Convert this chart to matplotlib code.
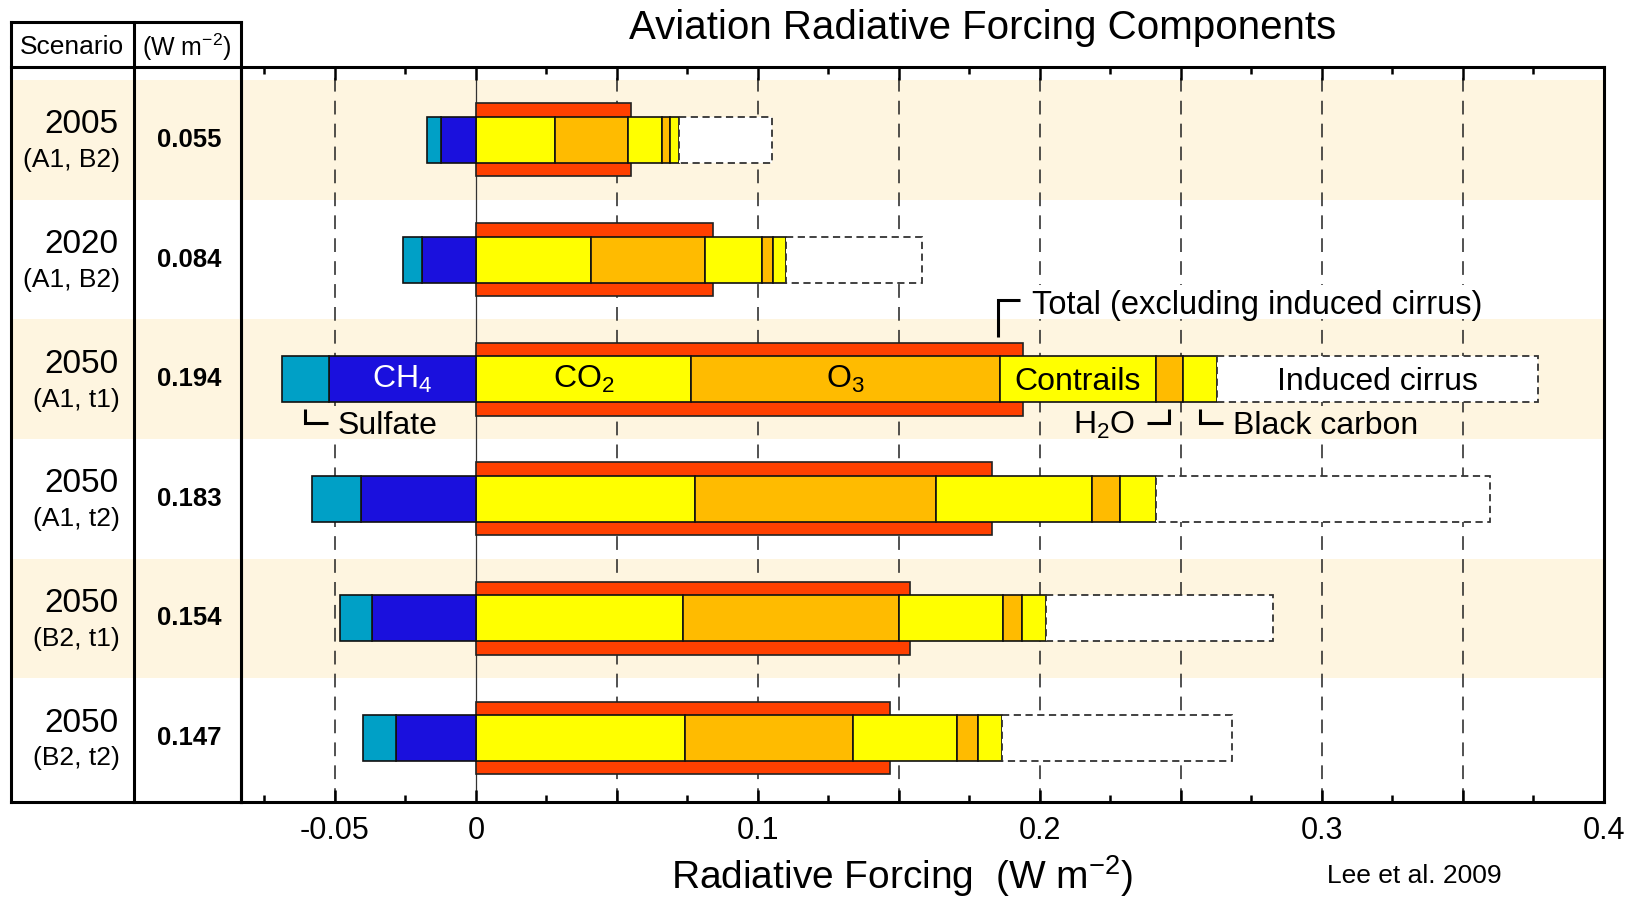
import matplotlib
matplotlib.use('Agg')
import matplotlib.pyplot as plt
from matplotlib.patches import Rectangle
import numpy as np

plt.rcParams['font.family'] = ['Liberation Sans', 'DejaVu Sans']
plt.rcParams['mathtext.fontset'] = 'custom'
plt.rcParams['mathtext.rm'] = 'Liberation Sans'
plt.rcParams['mathtext.it'] = 'Liberation Sans:italic'
plt.rcParams['mathtext.bf'] = 'Liberation Sans:bold'

# scenarios (rows, top to bottom)
years = ['2005', '2020', '2050', '2050', '2050', '2050']
cases = ['(A1, B2)', '(A1, B2)', '(A1, t1)', '(A1, t2)', '(B2, t1)', '(B2, t2)']
total = [0.055, 0.084, 0.194, 0.183, 0.154, 0.147]

# components, W m-2
co2 = [0.0280, 0.0407, 0.0764, 0.0778, 0.0733, 0.0743]
o3 = [0.0260, 0.0406, 0.1094, 0.0852, 0.0767, 0.0594]
contrails = [0.0120, 0.0201, 0.0552, 0.0555, 0.0370, 0.0369]
h2o = [0.0028, 0.0039, 0.0098, 0.0100, 0.0067, 0.0073]
soot = [0.0032, 0.0047, 0.0120, 0.0126, 0.0085, 0.0086]
cirrus = [0.0330, 0.0480, 0.1138, 0.1185, 0.0804, 0.0817]
ch4 = [-0.0125, -0.0190, -0.0520, -0.0407, -0.0367, -0.0282]
sulfate = [-0.0048, -0.0070, -0.0169, -0.0174, -0.0114, -0.0120]

tick_vals = [-0.05, 0, 0.05, 0.1, 0.15, 0.2, 0.25, 0.3, 0.35, 0.4]
tick_labels = ['-0.05', '0', '', '0.1', '', '0.2', '', '0.3', '', '0.4']

red = '#FF4000'
yellow = '#FFFF00'
orange = '#FFBB00'
blue = '#1A10DD'
teal = '#00A0C6'
cream = '#FEF5E0'

W, H = 1635, 898
fig = plt.figure(figsize=(W / 100, H / 100), dpi=100)
ax = fig.add_axes([241 / W, 96 / H, 1363 / W, 735 / H])
tab = fig.add_axes([11 / W, 96 / H, 230 / W, 780 / H])

y = np.arange(len(years))
ytop, ybot, yhead = -0.61, 5.535, -0.986
xmin, xmax = -0.0833, 0.4

# shaded bands
for i in range(0, len(years), 2):
    ax.axhspan(i - 0.5, i + 0.5, color=cream, lw=0, zorder=0)
    tab.axhspan(i - 0.5, i + 0.5, color=cream, lw=0, zorder=0)

# dashed grid + zero line
for v in tick_vals:
    if v == 0 or v == 0.4:
        continue
    ax.axvline(v, color='#222222', lw=1.1, dashes=(9, 6), zorder=1)
ax.axvline(0, color='#333333', lw=0.9, zorder=1)

# total bar behind
ax.barh(y, total, height=0.61, color=red, edgecolor='#222222', lw=1.2, zorder=2)

# stacked positive parts
left = np.zeros(len(years))
edges = []
for vals, col in [(co2, yellow), (o3, orange), (contrails, yellow), (h2o, orange), (soot, yellow)]:
    ax.barh(y, vals, left=left, height=0.385, color=col, edgecolor='#111111', lw=1.2, zorder=3)
    left = left + np.array(vals)
    edges.append(left.copy())
ax.barh(y, cirrus, left=left, height=0.385, facecolor='white', edgecolor='#333333',
        lw=1.3, linestyle=(0, (4, 2.5)), zorder=3)
edges.append(left + np.array(cirrus))

# negative parts
ax.barh(y, ch4, height=0.385, color=blue, edgecolor='#111111', lw=1.2, zorder=3)
ax.barh(y, sulfate, left=ch4, height=0.385, color=teal, edgecolor='#111111', lw=1.2, zorder=3)

ax.set_xlim(xmin, xmax)
ax.set_ylim(ybot, ytop)
ax.set_yticks([])
ax.set_xticks(tick_vals)
ax.set_xticklabels(tick_labels)
ax.set_xticks(np.arange(-0.075, 0.4, 0.05), minor=True)
ax.tick_params(which='both', direction='in', top=True, bottom=True, width=1.8,
               labelsize=22, pad=10)
ax.tick_params(which='major', length=9)
ax.tick_params(which='minor', length=5)
for s in ax.spines.values():
    s.set_linewidth(2.2)

# labels inside the 2050 (A1, t1) row
r = 2
fs = 23
p = [e[r] for e in edges]
n1 = ch4[r]
n2 = ch4[r] + sulfate[r]
ax.text(n1 / 2, r, r'CH$_4$', color='white', fontsize=fs, ha='center', va='center', zorder=5)
ax.text(p[0] / 2, r, r'CO$_2$', fontsize=fs, ha='center', va='center', zorder=5)
ax.text((p[0] + p[1]) / 2, r, r'O$_3$', fontsize=fs, ha='center', va='center', zorder=5)
ax.text((p[1] + p[2]) / 2, r + 0.024, 'Contrails', fontsize=fs, ha='center', va='center', zorder=5)
ax.text((p[4] + p[5]) / 2, r + 0.024, 'Induced cirrus', fontsize=fs, ha='center', va='center', zorder=5)

arm = 0.008
lk = dict(color='black', lw=2.2, solid_capstyle='butt', solid_joinstyle='miter', clip_on=False, zorder=5)
ly0, ly1, lyt = r + 0.25, r + 0.365, r + 0.39
masks = []
xs = (n1 + n2) / 2
ax.plot([xs, xs, xs + arm], [ly0, ly1, ly1], **lk)
t = ax.text(xs + arm + 0.0035, lyt, 'Sulfate', fontsize=fs, ha='left', va='center', zorder=5)
masks.append((t, cream, r - 0.5, r + 0.5))
xh = (p[2] + p[3]) / 2
ax.plot([xh - arm, xh, xh], [ly1, ly1, ly0], **lk)
ax.text(xh - arm - 0.004, lyt, r'H$_2$O', fontsize=fs, ha='right', va='center', zorder=5)
xb = (p[3] + p[4]) / 2
ax.plot([xb, xb, xb + arm], [ly0, ly1, ly1], **lk)
t = ax.text(xb + arm + 0.0035, lyt, 'Black carbon', fontsize=fs, ha='left', va='center', zorder=5)
masks.append((t, cream, r - 0.5, r + 0.5))
xt = total[r] - 0.009
ax.plot([xt, xt, xt + arm], [r - 0.354, r - 0.663, r - 0.663], **lk)
t = ax.text(xt + arm + 0.004, r - 0.62, 'Total (excluding induced cirrus)', fontsize=23.5,
            ha='left', va='center', zorder=5)
masks.append((t, 'white', r - 1.5, r - 0.5))

# hide the dashed grid behind these labels, staying inside their band
fig.canvas.draw()
inv = ax.transData.inverted()
for t, col, b0, b1 in masks:
    bb = t.get_window_extent().transformed(inv)
    x0, x1 = bb.x0 - 0.002, bb.x1 + 0.002
    y0 = max(min(bb.y0, bb.y1) - 0.04, b0)
    y1 = min(max(bb.y0, bb.y1) + 0.04, b1)
    ax.add_patch(Rectangle((x0, y0), x1 - x0, y1 - y0, facecolor=col, edgecolor='none', zorder=1.5))

# table on the left
tab.set_xlim(0, 230)
tab.set_ylim(ybot, yhead)
tab.axis('off')
tk = dict(color='black', lw=2.2, clip_on=False, solid_capstyle='projecting')
for xv in [0, 123, 230]:
    tab.plot([xv, xv], [yhead, ybot], **tk)
for yv in [yhead, ytop, ybot]:
    tab.plot([0, 230], [yv, yv], **tk)
hy = (yhead + ytop) / 2 + 0.025
tab.text(61, hy, 'Scenario', fontsize=19, ha='center', va='center')
tab.text(176, hy, r'(W m$^{-2}$)', fontsize=18, ha='center', va='center')
for i in range(len(years)):
    tab.text(107, i - 0.125, years[i], fontsize=24, ha='right', va='center')
    tab.text(109, i + 0.17, cases[i], fontsize=19, ha='right', va='center')
    tab.text(178, i, f'{total[i]:.3f}', fontsize=18.5, weight='bold', ha='center', va='center')

fig.text(983 / W, 1 - 28 / H, 'Aviation Radiative Forcing Components', fontsize=29,
         ha='center', va='center')
fig.text(902 / W, 1 - 876 / H, r'Radiative Forcing  (W m$^{-2}$)', fontsize=28,
         ha='center', va='center')
fig.text(1414 / W, 1 - 876 / H, 'Lee et al. 2009', fontsize=19, ha='center', va='center')

fig.savefig('out.png', dpi=100)
